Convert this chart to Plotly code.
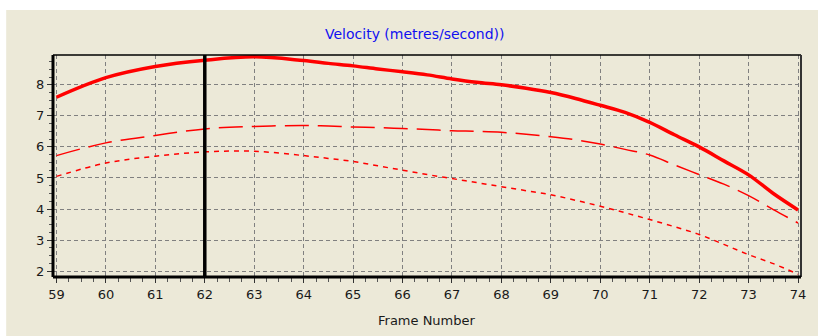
import plotly.graph_objects as go

frames = [59, 60, 61, 62, 63, 64, 64.5, 65, 65.5, 66, 66.5, 67, 67.5, 68, 68.5, 69, 69.5, 70,
          70.5, 71, 71.5, 72, 72.5, 73, 73.5, 74]
velocity_solid = [7.60, 8.23, 8.59, 8.79, 8.90, 8.78, 8.69, 8.61, 8.51, 8.42, 8.32, 8.19, 8.08, 8.00,
                  7.89, 7.75, 7.56, 7.34, 7.11, 6.79, 6.39, 6.00, 5.55, 5.10, 4.50, 3.97]
velocity_dashed = [5.72, 6.13, 6.37, 6.58, 6.66, 6.69, 6.67, 6.64, 6.62, 6.59, 6.56, 6.52, 6.50, 6.47,
                   6.41, 6.33, 6.23, 6.09, 5.92, 5.74, 5.42, 5.11, 4.80, 4.43, 3.98, 3.55]
velocity_dotted = [5.05, 5.48, 5.70, 5.84, 5.86, 5.72, 5.63, 5.53, 5.39, 5.25, 5.11, 4.98, 4.85, 4.72,
                   4.59, 4.46, 4.28, 4.09, 3.88, 3.66, 3.43, 3.18, 2.86, 2.53, 2.24, 1.90]
cursor_frame = 62
x_ticks = list(range(59, 75))
y_ticks = [2, 3, 4, 5, 6, 7, 8]

RED = "#FF0000"
fig = go.Figure()
fig.add_trace(go.Scatter(x=frames, y=velocity_dotted, mode="lines",
                         line=dict(color=RED, width=1.5, dash="5px,5px", shape="spline")))
fig.add_trace(go.Scatter(x=frames, y=velocity_dashed, mode="lines",
                         line=dict(color=RED, width=1.5, dash="24px,9px", shape="spline")))
fig.add_trace(go.Scatter(x=frames, y=velocity_solid, mode="lines",
                         line=dict(color=RED, width=3.5, shape="spline")))

W, H = 818, 336
L, T = 53, 55
R = W - 804
B = H - 277
pw, ph = W - L - R, H - T - B

def px(xs):
    return (xs - L) / pw

def py(ys):
    return (H - B - ys) / ph

shapes = [
    dict(type="rect", xref="paper", yref="paper", x0=px(6), x1=px(840), y0=py(10), y1=py(360),
         fillcolor="#ECE9D8", line=dict(width=0), layer="below"),
    dict(type="line", xref="paper", yref="paper", x0=0, x1=1, y0=1, y1=1, line=dict(color="#000000", width=1.5)),
    dict(type="line", xref="paper", yref="paper", x0=1, x1=1, y0=0, y1=1, line=dict(color="#333333", width=2)),
    dict(type="line", xref="paper", yref="paper", x0=0, x1=0, y0=0, y1=1, line=dict(color="#000000", width=3)),
    dict(type="line", xref="paper", yref="paper", x0=0, x1=1, y0=0, y1=0, line=dict(color="#000000", width=3)),
    dict(type="line", xref="x", yref="paper", x0=cursor_frame, x1=cursor_frame, y0=0, y1=1,
         line=dict(color="#000000", width=3.5)),
]

FONT = "DejaVu Sans, Liberation Sans, Arial, sans-serif"
fig.update_layout(
    width=W, height=H,
    margin=dict(l=L, r=R, t=T, b=B),
    paper_bgcolor="#FFFFFF",
    plot_bgcolor="rgba(0,0,0,0)",
    showlegend=False,
    font=dict(family=FONT, size=13, color="#1a1a1a"),
    shapes=shapes,
    annotations=[
        dict(text="Velocity (metres/second))", xref="paper", yref="paper", x=px(416), y=py(34),
             showarrow=False, font=dict(color="#1010F0", size=14), xanchor="center", yanchor="middle"),
        dict(text="Frame Number", xref="paper", yref="paper", x=px(428), y=py(320),
             showarrow=False, font=dict(size=13), xanchor="center", yanchor="middle"),
    ],
)
fig.update_xaxes(range=[58.93, 74.06], tickvals=x_ticks, ticktext=[str(v) for v in x_ticks],
                 showgrid=True, gridcolor="#808080", gridwidth=1, griddash="4px,3px",
                 zeroline=False, showline=False, ticks="outside", ticklen=5, tickcolor="#333333",
                 minor=dict(dtick=0.25, tick0=59, ticks="outside", ticklen=4, tickcolor="#555555", showgrid=False))
fig.update_yaxes(range=[1.81, 8.96], tickvals=y_ticks, ticktext=[str(v) for v in y_ticks],
                 showgrid=True, gridcolor="#808080", gridwidth=1, griddash="4px,3px",
                 zeroline=False, showline=False, ticks="outside", ticklen=5, tickcolor="#333333",
                 minor=dict(dtick=0.25, tick0=2, ticks="outside", ticklen=3, tickcolor="#555555", showgrid=False))

fig.write_html("out.html", config={"displayModeBar": False},
               post_script="document.body.style.margin='0';document.body.style.overflow='hidden';")
